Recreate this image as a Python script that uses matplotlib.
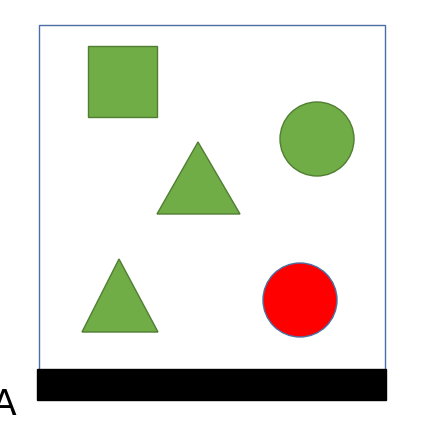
import matplotlib
matplotlib.use("Agg")
import matplotlib.pyplot as plt
from matplotlib.patches import Rectangle, Circle, Polygon

# shape data in pixel units (y down)
squares = [(88, 47, 69, 71)]
circles_green = [(317, 140, 37)]
circles_red = [(300, 301, 37)]
triangles = [[(198, 143), (157, 215), (240, 215)],
             [(119, 260), (82, 333), (158, 333)]]

green = "#70AD47"
green_edge = "#507E32"

fig = plt.figure(figsize=(4.23, 4.27), dpi=100)
ax = fig.add_axes([0, 0, 1, 1])
ax.set_xlim(0, 423)
ax.set_ylim(427, 0)
ax.set_aspect("auto")
ax.axis("off")

ax.add_patch(Rectangle((39, 26), 346, 346, fill=False, edgecolor="#4A6FA5", lw=1))
ax.add_patch(Rectangle((37, 370), 349, 31, color="black"))

for x, y, w, h in squares:
    ax.add_patch(Rectangle((x, y), w, h, facecolor=green, edgecolor=green_edge, lw=1))
for cx, cy, r in circles_green:
    ax.add_patch(Circle((cx, cy), r, facecolor=green, edgecolor=green_edge, lw=1))
for cx, cy, r in circles_red:
    ax.add_patch(Circle((cx, cy), r, facecolor="red", edgecolor="#4A6FA5", lw=1))
for pts in triangles:
    ax.add_patch(Polygon(pts, closed=True, facecolor=green, edgecolor=green_edge, lw=1))

ax.text(-8, 405, "A", fontsize=26, va="center", ha="left", color="black")

fig.savefig("out.png", dpi=100)
